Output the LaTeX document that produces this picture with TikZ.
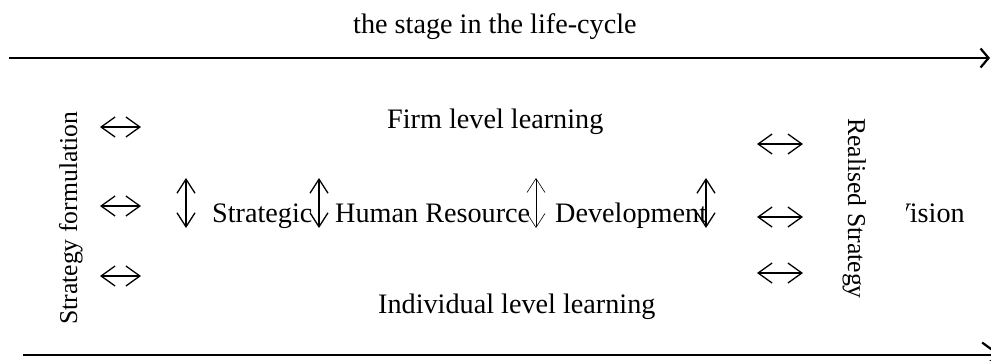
\documentclass[tikz,border=0pt]{standalone}
\usepackage{fontspec}
\setmainfont{Liberation Serif}
\usetikzlibrary{arrows.meta}
\begin{document}
\begin{tikzpicture}[x=1pt,y=-1pt,
  lbl/.style={inner sep=0pt,anchor=base west,font=\fontsize{28.2}{34}\selectfont},
  sidelbl/.style={inner sep=0pt,anchor=base west,font=\fontsize{25.7}{31}\selectfont},
  timeline/.style={line width=2.2pt},
  hflow/.style={line width=1.3pt,{Straight Barb[length=14pt,width=20pt]}-{Straight Barb[length=14pt,width=20pt]}},
  vflow/.style={line width=1.3pt,{Straight Barb[length=14pt,width=18pt]}-{Straight Barb[length=14pt,width=18pt]}},
  thinflow/.style={vflow,line width=0.6pt}]
\useasboundingbox (0,0) rectangle (991,360);

% time axes
\coordinate (topL) at (9,58);
\coordinate (topR) at (990,58);
\coordinate (botL) at (23,355);
\coordinate (botR) at (1001,355);
\draw[timeline,-{Straight Barb[length=8pt,width=19pt]}] (topL) -- (topR);
\draw[timeline,-{Straight Barb[length=17pt,width=25pt]}] (botL) -- (botR);

% labels
\node[lbl] (stage) at (353,33) {the stage in the life-cycle};
\node[lbl] (firm) at (387,128) {Firm level learning};
\node[lbl] (indiv) at (378,313) {Individual level learning};
\node[lbl] (shrd1) at (212,222) {Strategic};
\node[lbl] (shrd2) at (335,222) {Human Resource};
\node[lbl] (shrd3) at (555,222) {Development};
\node[lbl] (vision) at (891,222) {Vision};
\node[sidelbl,rotate=90] (formul) at (77,325) {Strategy formulation};
\node[sidelbl,rotate=-90,fill=white,text height=58pt,text depth=6pt] (realised) at (848,118) {Realised Strategy};

% horizontal two-way arrows
\foreach \n/\xa/\xb/\y in {l1/100/141/127, l2/100/141/206, l3/100/141/276,
                           r1/757/803/144, r2/757/803/217, r3/757/803/273} {
  \coordinate (\n a) at (\xa,\y);
  \coordinate (\n b) at (\xb,\y);
  \draw[hflow] (\n a) -- (\n b);
}

% vertical two-way arrows
\foreach \n/\x in {v1/186, v2/319, v4/706} {
  \coordinate (\n a) at (\x,178);
  \coordinate (\n b) at (\x,228);
  \draw[vflow] (\n a) -- (\n b);
}
\coordinate (v3a) at (536,178);
\coordinate (v3b) at (536,228);
\draw[thinflow] (v3a) -- (v3b);
\end{tikzpicture}
\end{document}
